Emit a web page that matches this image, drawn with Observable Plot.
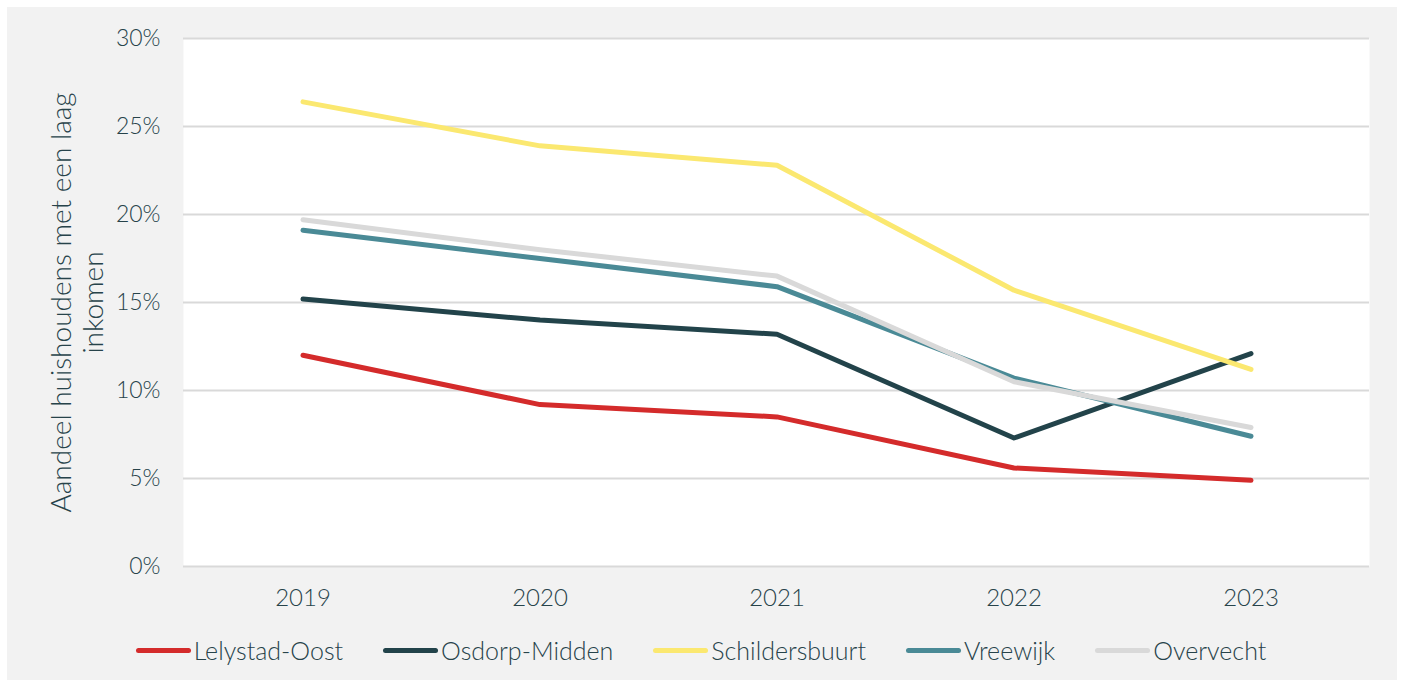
<!DOCTYPE html>
<html>
<head>
<meta charset="utf-8">
<script src="https://cdn.jsdelivr.net/npm/d3@7"></script>
<script src="https://cdn.jsdelivr.net/npm/@observablehq/plot@0.6"></script>
<style>
  html, body { margin: 0; padding: 0; background: #ffffff; }
  #wrap { position: relative; width: 1402px; height: 684px; background: #ffffff; overflow: hidden; font-family: Lato, "Open Sans", sans-serif; font-weight: 300; }
  #frame { position: absolute; left: 7px; top: 7px; width: 1390px; height: 673px; background: #f2f2f2; }
  #chart { position: absolute; left: 0; top: 0; }
  #legend { position: absolute; left: 0; top: 635px; width: 1402px; display: flex; justify-content: center; gap: 40px; font-size: 25px; line-height: 30px; color: #27434a; }
  .item { display: flex; align-items: center; }
  .sw { width: 55px; height: 5px; border-radius: 3px; margin-right: 3px; }
</style>
</head>
<body>
<div id="wrap">
  <div id="frame"></div>
  <div id="chart"></div>
  <div id="legend"></div>
</div>
<script>
const years = ["2019", "2020", "2021", "2022", "2023"];
const seriesNames = ["Lelystad-Oost", "Osdorp-Midden", "Schildersbuurt", "Vreewijk", "Overvecht"];
const seriesColors = ["#d42b2b", "#22434a", "#fbe870", "#4a8a96", "#d9d9d9"];
const lelystadOost = [12.0, 9.2, 8.5, 5.6, 4.9];
const osdorpMidden = [15.2, 14.0, 13.2, 7.3, 12.1];
const schildersbuurt = [26.4, 23.9, 22.8, 15.7, 11.2];
const vreewijk = [19.1, 17.5, 15.9, 10.7, 7.4];
const overvecht = [19.7, 18.0, 16.5, 10.5, 7.9];
const yTicks = [0, 5, 10, 15, 20, 25, 30];
const yLabel = "Aandeel huishoudens met een laag\ninkomen";

const allValues = [lelystadOost, osdorpMidden, schildersbuurt, vreewijk, overvecht];
const data = [];
seriesNames.forEach((name, i) => {
  years.forEach((y, j) => data.push({series: name, year: y, value: allValues[i][j]}));
});

const textColor = "#27434a";

const chart = Plot.plot({
  width: 1402,
  height: 610,
  marginLeft: 183,
  marginRight: 33,
  marginTop: 38,
  marginBottom: 44,
  style: {fontFamily: 'Lato, "Open Sans", sans-serif', fontWeight: 300, fontSize: "23px", color: textColor, background: "transparent", overflow: "visible"},
  x: {type: "band", domain: years, padding: 0, label: null, tickSize: 0},
  y: {domain: [0, 30], ticks: yTicks, tickFormat: d => d + "%", label: null, tickSize: 0},
  color: {domain: seriesNames, range: seriesColors},
  marks: [
    Plot.frame({fill: "#ffffff", stroke: null}),
    Plot.gridY(yTicks, {stroke: "#d9d9d9", strokeOpacity: 1, strokeWidth: 2}),
    Plot.axisX({tickSize: 0, tickPadding: 22, fill: textColor, fontSize: 24}),
    Plot.axisY({ticks: yTicks, tickFormat: d => d + "%", tickSize: 0, tickPadding: 23, fill: textColor, fontSize: 23}),
    Plot.line(data, {x: "year", y: "value", z: "series", stroke: "series", strokeWidth: 5, strokeLinecap: "round", strokeLinejoin: "round"}),
    Plot.text([yLabel], {frameAnchor: "left", dx: -107, rotate: -90, textAnchor: "middle", lineAnchor: "middle", fontSize: 28, lineHeight: 1.15, fill: textColor})
  ]
});
document.getElementById("chart").appendChild(chart);

const legend = document.getElementById("legend");
seriesNames.forEach((name, i) => {
  const item = document.createElement("div");
  item.className = "item";
  const sw = document.createElement("span");
  sw.className = "sw";
  sw.style.background = seriesColors[i];
  const t = document.createElement("span");
  t.textContent = name;
  item.appendChild(sw);
  item.appendChild(t);
  legend.appendChild(item);
});
</script>
</body>
</html>
